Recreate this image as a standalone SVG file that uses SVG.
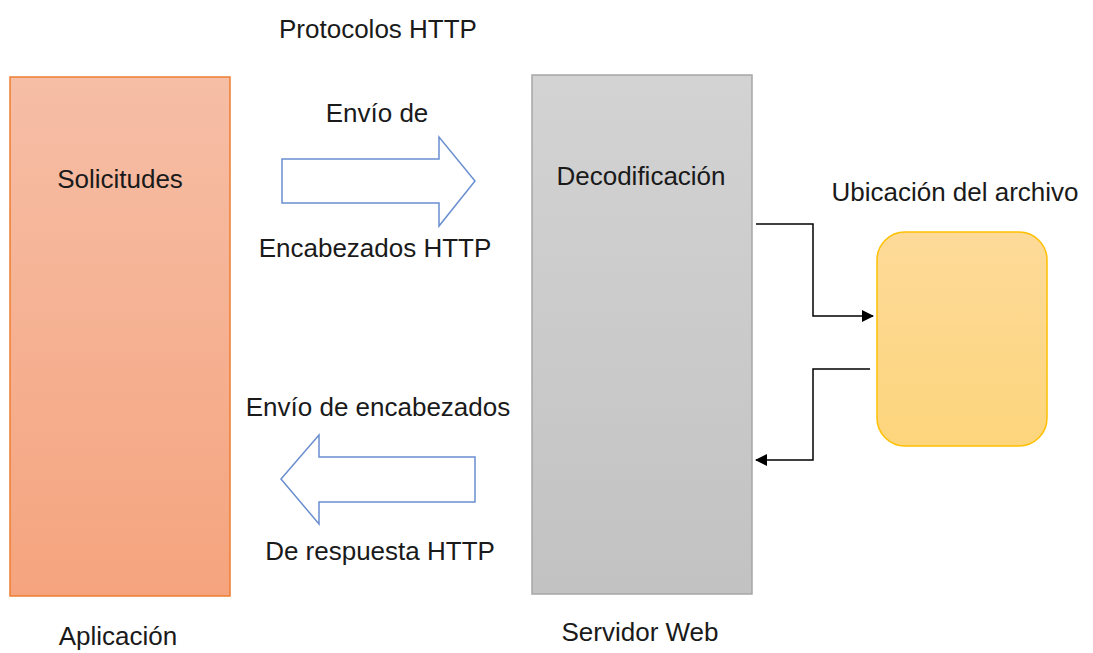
<svg xmlns="http://www.w3.org/2000/svg" width="1093" height="653" viewBox="0 0 1093 653">
<style>
text{font-family:"Liberation Sans",Arial,sans-serif;font-size:26px;fill:#1a1a1a;text-anchor:middle}
.big{fill:none;stroke:#4472c4;stroke-width:1.5;stroke-opacity:0.8}
.conn{fill:none;stroke:#000;stroke-width:1.5}
</style>
<defs>
<linearGradient id="gOr" x1="0" y1="0" x2="0" y2="1"><stop offset="0" stop-color="#f6bea6"/><stop offset="1" stop-color="#f5a47e"/></linearGradient>
<linearGradient id="gGr" x1="0" y1="0" x2="0" y2="1"><stop offset="0" stop-color="#d3d3d3"/><stop offset="1" stop-color="#c2c2c2"/></linearGradient>
<linearGradient id="gYe" x1="0" y1="0" x2="0" y2="1"><stop offset="0" stop-color="#fdda99"/><stop offset="1" stop-color="#fdd57c"/></linearGradient>
<marker id="ah" markerWidth="12" markerHeight="12" refX="11" refY="6" orient="auto" markerUnits="userSpaceOnUse"><path d="M0,0 L12,6 L0,12 Z" fill="#000"/></marker>
</defs>
<text x="378" y="38">Protocolos HTTP</text>
<g id="aplicacion">
<rect x="10" y="77" width="220" height="519" fill="url(#gOr)" stroke="#ed7d31" stroke-width="1.5"/>
<text x="120" y="188">Solicitudes</text>
<text x="118" y="645">Aplicación</text>
</g>
<g id="servidor">
<rect x="532" y="75" width="220" height="519" fill="url(#gGr)" stroke="#a6a6a6" stroke-width="1.5"/>
<text x="641" y="185">Decodificación</text>
<text x="640" y="641">Servidor Web</text>
</g>
<g id="archivo">
<rect x="877" y="232" width="170" height="214" rx="28" fill="url(#gYe)" stroke="#ffc000" stroke-width="1.5"/>
<text x="955" y="201">Ubicación del archivo</text>
</g>
<g id="envio">
<polygon class="big" points="282,159 439,159 439,137 475,181 439,226 439,203 282,203"/>
<text x="377" y="122">Envío de</text>
<text x="375" y="257">Encabezados HTTP</text>
</g>
<g id="respuesta">
<polygon class="big" points="475,457 319,457 319,435 281,479 319,524 319,502 475,502"/>
<text x="378" y="416">Envío de encabezados</text>
<text x="380" y="560">De respuesta HTTP</text>
</g>
<g id="connectors">
<polyline class="conn" points="756,224 813,224 813,316 873,316" marker-end="url(#ah)"/>
<polyline class="conn" points="870,369 813,369 813,460 756,460" marker-end="url(#ah)"/>
</g>
</svg>
